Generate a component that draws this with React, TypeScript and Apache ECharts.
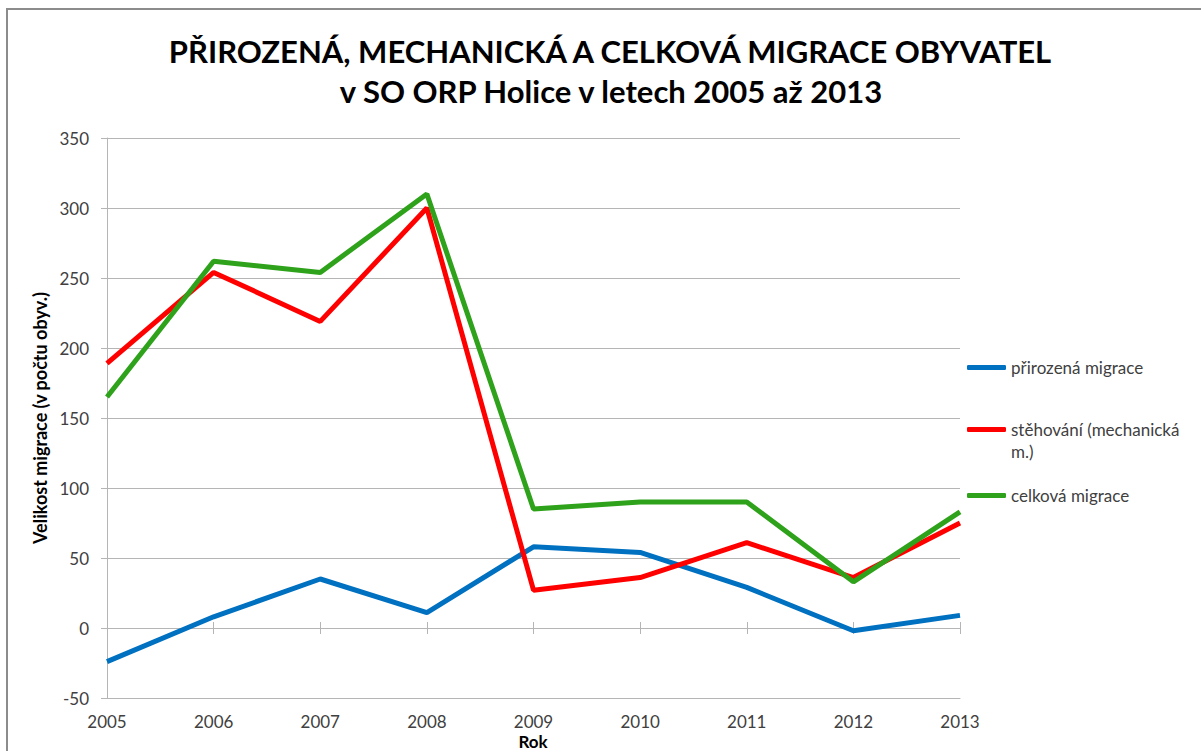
import React, { useEffect, useRef } from "react";
import * as echarts from "echarts";

const years = ["2005", "2006", "2007", "2008", "2009", "2010", "2011", "2012", "2013"];
const prirozena = [-24, 8, 35, 11, 58, 54, 29, -2, 9];
const stehovani = [189, 254, 219, 300, 27, 36, 61, 36, 75];
const celkova = [165, 262, 254, 310, 85, 90, 90, 33, 83];

const titleLine1 = "PŘIROZENÁ, MECHANICKÁ A CELKOVÁ MIGRACE OBYVATEL";
const titleLine2 = "v SO ORP Holice v letech 2005 až 2013";
const yName = "Velikost migrace (v počtu obyv.)";
const xName = "Rok";
const nameBlue = "přirozená migrace";
const nameRed = "stěhování (mechanická m.)";
const nameGreen = "celková migrace";

const FONT = "Lato, 'Open Sans', sans-serif";
const GRID = "#b5b5b5";
const TXT = "#404040";

export default function App() {
  const ref = useRef<HTMLDivElement>(null);
  useEffect(() => {
    if (!ref.current) return;
    const chart = echarts.init(ref.current, undefined, { renderer: "svg" });
    const legendBase = {
      orient: "vertical" as const,
      left: 962,
      itemWidth: 39,
      itemHeight: 5,
      icon: "roundRect",
      textStyle: { fontFamily: FONT, fontSize: 17, lineHeight: 17, color: TXT },
      selectedMode: false,
    };
    const gridRect = { left: 107, right: 241, top: 138, bottom: 53, containLabel: false, outerBoundsMode: "none" };
    const tickAxis = (gridIndex: number, position: string) => ({
      type: "category",
      gridIndex,
      data: years,
      boundaryGap: false,
      position,
      axisLine: { show: true, onZero: true, lineStyle: { color: GRID, width: 1 } },
      axisTick: { show: true, length: 6, lineStyle: { color: GRID } },
      axisLabel: { show: false },
      splitLine: { show: false },
    });
    chart.setOption({
      animation: false,
      backgroundColor: "#ffffff",
      textStyle: { fontFamily: FONT },
      graphic: [
        { type: "line", shape: { x1: 7, y1: 9, x2: 7, y2: 751 }, style: { stroke: "#8c8c8c", lineWidth: 2 }, z: 100 },
        { type: "line", shape: { x1: 6, y1: 9, x2: 1201, y2: 9 }, style: { stroke: "#8c8c8c", lineWidth: 2 }, z: 100 },
        {
          type: "text", x: 610, y: 51,
          style: { text: titleLine1, font: `bold 31px ${FONT}`, fill: "#000", textAlign: "center", textVerticalAlign: "middle" },
        },
        {
          type: "text", x: 611, y: 91,
          style: { text: titleLine2, font: `bold 31px ${FONT}`, fill: "#000", textAlign: "center", textVerticalAlign: "middle" },
        },
        {
          type: "text", x: 1011, y: 451,
          style: { text: "m.)", font: `17px ${FONT}`, fill: TXT, textAlign: "left", textVerticalAlign: "middle" },
        },
        {
          type: "text", x: 533, y: 741,
          style: { text: xName, font: `bold 17px ${FONT}`, fill: "#000", textAlign: "center", textVerticalAlign: "middle" },
        },
      ],
      legend: [
        { ...legendBase, top: 354, data: [nameBlue] },
        { ...legendBase, top: 416, data: [nameRed], formatter: () => "stěhování (mechanická" },
        { ...legendBase, top: 482, data: [nameGreen] },
      ],
      grid: [gridRect, { ...gridRect }],
      xAxis: [
        {
          type: "category",
          gridIndex: 0,
          data: years,
          boundaryGap: false,
          position: "bottom",
          axisLine: { show: true, onZero: false, lineStyle: { color: GRID, width: 1 } },
          axisTick: { show: false },
          axisLabel: { margin: 15, fontSize: 17, lineHeight: 17, color: TXT, fontFamily: FONT },
          splitLine: { show: false },
        },
        tickAxis(0, "top"),
        tickAxis(1, "bottom"),
      ],
      yAxis: [
        {
          type: "value",
          gridIndex: 0,
          min: -50,
          max: 350,
          interval: 50,
          axisLine: { show: true, lineStyle: { color: GRID } },
          axisTick: { show: true, length: 6, lineStyle: { color: GRID } },
          axisLabel: { margin: 18, fontSize: 17, color: TXT, fontFamily: FONT },
          splitLine: { show: true, lineStyle: { color: GRID, width: 1 } },
          name: yName,
          nameLocation: "middle",
          nameGap: 58,
          nameRotate: 90,
          nameTextStyle: { fontFamily: FONT, fontSize: 18, fontWeight: "bold", color: "#000" },
        },
        {
          type: "value",
          gridIndex: 1,
          min: -50,
          max: 350,
          interval: 50,
          show: false,
          splitLine: { show: false },
        },
      ],
      series: [
        {
          name: nameBlue, type: "line", data: prirozena, color: "#0070c0", xAxisIndex: 0, yAxisIndex: 0,
          symbol: "none", lineStyle: { width: 5, color: "#0070c0" }, z: 3,
        },
        {
          name: nameRed, type: "line", data: stehovani, color: "#ff0000", xAxisIndex: 0, yAxisIndex: 0,
          symbol: "none", lineStyle: { width: 5, color: "#ff0000" }, z: 3,
        },
        {
          name: nameGreen, type: "line", data: celkova, color: "#2ea21a", xAxisIndex: 0, yAxisIndex: 0,
          symbol: "none", lineStyle: { width: 5, color: "#2ea21a" }, z: 3,
        },
      ],
    });
    return () => chart.dispose();
  }, []);
  return (
    <div
      ref={ref}
      style={{ position: "absolute", left: 0, top: 0, width: 1201, height: 751, background: "#fff" }}
    />
  );
}
